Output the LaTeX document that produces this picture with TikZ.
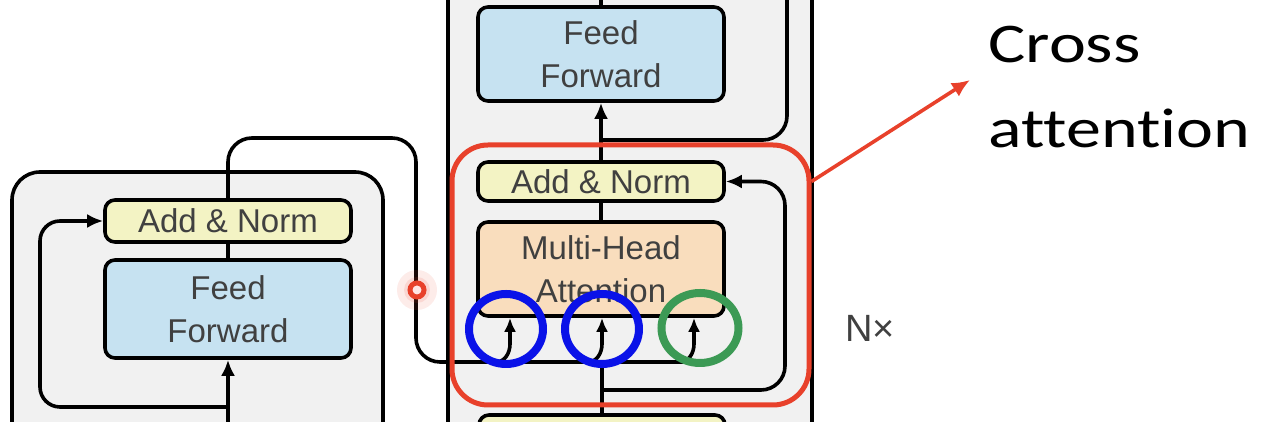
\documentclass[tikz,border=0pt]{standalone}
\usepackage{fontspec}
\setmainfont{Liberation Sans}
\newfontfamily\calloutfont[FakeStretch=1.25, Ligatures={NoCommon}]{Carlito}
\usepackage{xcolor}
\usepackage{tikz}
\usetikzlibrary{arrows.meta,shapes.geometric}

\definecolor{panelgray}{HTML}{F1F1F1}
\definecolor{normyellow}{HTML}{F3F3C4}
\definecolor{ffblue}{HTML}{C6E2F1}
\definecolor{attnorange}{HTML}{F9DDBD}
\definecolor{labelgray}{HTML}{404040}
\definecolor{markred}{HTML}{E8412B}
\definecolor{markblue}{HTML}{0A12E8}
\definecolor{markgreen}{HTML}{3C9A55}

\tikzset{
  block/.style={draw, line width=1.8pt, rounded corners=5pt, minimum width=123pt,
    text=labelgray, font=\fontsize{16.5}{21.5}\selectfont, align=center, inner sep=0pt},
  normbox/.style={block, fill=normyellow, minimum height=19.5pt},
  ffbox/.style={block, fill=ffblue, minimum height=49pt},
  attnbox/.style={block, fill=attnorange, minimum height=47pt},
  wire/.style={line width=1.8pt},
  flow/.style={wire, -{Latex[length=8pt,width=7pt]}},
  inflow/.style={wire, -{Latex[length=7pt,width=6pt]}},
  ring/.style={draw, ellipse, line width=4pt, minimum width=37pt, minimum height=35pt, inner sep=0pt},
}

\begin{document}
\begin{tikzpicture}[x=0.5pt, y=0.5pt]
\useasboundingbox (0,0) rectangle (1266,422);
\clip (0,0) rectangle (1266,422);

% encoder and decoder panels
\draw[wire, fill=panelgray, rounded corners=14pt] (12,-60) rectangle (383,250);
\draw[wire, fill=panelgray, rounded corners=14pt] (448,-60) rectangle (812,482);

% encoder layer
\node[normbox, minimum height=21pt] (an1) at (228,201) {Add \& Norm};
\node[ffbox] (ff1) at (228,113) {Feed\\Forward};

% decoder layer
\node[ffbox, minimum height=47pt] (ff2) at (601,368) {Feed\\Forward};
\node[normbox] (an2) at (601,240.5) {Add \& Norm};
\node[attnbox] (mha) at (601,153) {Multi-Head\\Attention};
\node[normbox] (an3) at (602,-12.5) {Add \& Norm};

\coordinate (encin) at (228,-60);
\coordinate (encsplit) at (228,15);
\coordinate (memend) at (683,60);
\coordinate (decjoin) at (602,60);
\coordinate (decsplit) at (602,32);
\coordinate (ffsplit) at (601,282);
\coordinate (decout) at (601,482);
\coordinate (decres) at (787,482);

% encoder wiring
\draw[flow] (encin) -- (ff1);
\draw[wire] (ff1) -- (an1);
\draw[flow, rounded corners=10pt] (encsplit) -- (40,15) |- (an1.west);
\draw[wire, rounded corners=12pt] (an1.north) -- (228,284) -- (416,284) -- (416,60) -- (memend);

% decoder wiring
\draw[wire] (an3.north) -- (decjoin);
\draw[flow, rounded corners=12pt] (decsplit) -- (785,32) |- (an2.east);
\foreach \px in {510,602,694}
  \draw[inflow] (\px-14,60) to[out=0,in=-90] (\px,78) -- (\px,0 |- mha.south);
\draw[wire] (mha) -- (an2);
\draw[flow] (an2) -- (ff2);
\draw[wire] (ff2) -- (decout);
\draw[wire, rounded corners=12pt] (ffsplit) -- (787,282) -- (decres);

% cursor mark
\fill[markred, opacity=0.10] (417,132) circle (10pt);
\fill[markred, opacity=0.12] (417,132) circle (6.5pt);
\draw[markred, line width=2.5pt, fill=red!10] (417,132) circle (3.5pt);

% cross attention highlight
\node[draw=markred, line width=2.5pt, rounded corners=18pt, minimum width=178.5pt,
  minimum height=130pt, inner sep=0pt] (cross) at (630.5,147) {};
\node[ring, draw=markblue] (keyring) at (506,93) {};
\node[ring, draw=markblue] (valring) at (602,93) {};
\node[ring, draw=markgreen, minimum width=38.5pt] (qring) at (700,94) {};

\node[anchor=base west, inner sep=0pt, text=labelgray, font=\fontsize{19}{23}\selectfont] (nlayers) at (845,80) {N×};

\node[anchor=west, align=left, inner sep=0pt, font=\calloutfont\fontsize{28}{42.5}\selectfont] (xattnlabel) at (988,335) {Cross\\attention};
\draw[markred, line width=1.8pt, -{Latex[length=9pt,width=8pt]}] (cross.east |- an2) -- ([shift={(-9pt,3.5pt)}]xattnlabel.west);
\end{tikzpicture}
\end{document}
